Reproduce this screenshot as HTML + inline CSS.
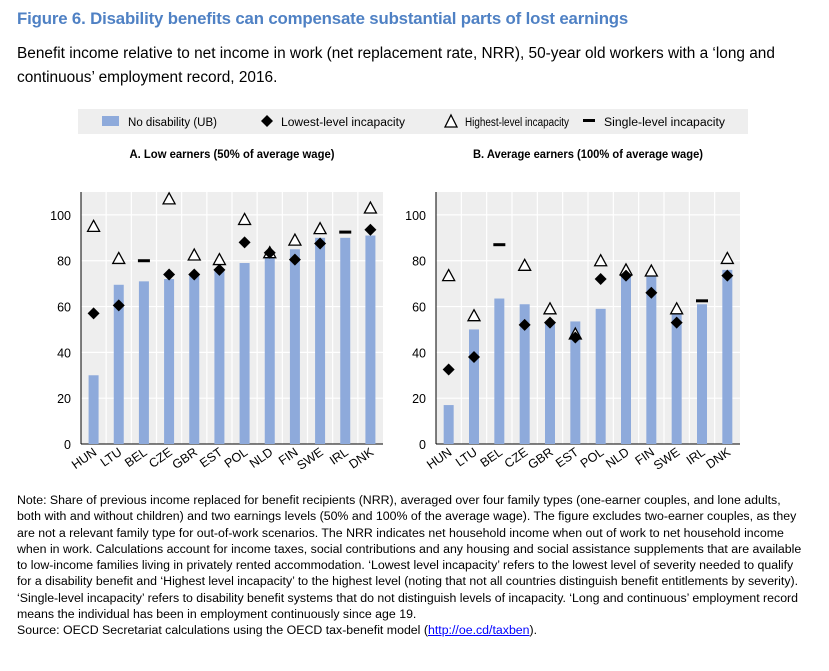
<!DOCTYPE html>
<html><head><meta charset="utf-8"><style>
body{margin:0;background:#fff;font-family:"Liberation Sans",sans-serif;width:829px;height:671px;overflow:hidden;position:relative}
.t{position:absolute;white-space:nowrap}
</style></head><body>
<div class="t" style="left:17px;top:9px;font-size:16.8px;font-weight:bold;color:#4f81c4;letter-spacing:-0.15px">Figure 6. Disability benefits can compensate substantial parts of lost earnings</div>
<div class="t" style="left:17px;top:42px;font-size:15.4px;line-height:24px;color:#000">Benefit income relative to net income in work (net replacement rate, NRR), 50-year old workers with a ‘long and<br>continuous’ employment record, 2016.</div>
<svg id="chart" width="829" height="671" style="position:absolute;left:0;top:0" xmlns="http://www.w3.org/2000/svg" font-family="Liberation Sans, sans-serif"></svg>
<div class="t" style="left:17px;top:492px;font-size:12.35px;line-height:16.3px;color:#000">Note: Share of previous income replaced for benefit recipients (NRR), averaged over four family types (one-earner couples, and lone adults,<br>both with and without children) and two earnings levels (50% and 100% of the average wage). The figure excludes two-earner couples, as they<br>are not a relevant family type for out-of-work scenarios. The NRR indicates net household income when out of work to net household income<br>when in work. Calculations account for income taxes, social contributions and any housing and social assistance supplements that are available<br>to low-income families living in privately rented accommodation. ‘Lowest level incapacity’ refers to the lowest level of severity needed to qualify<br>for a disability benefit and ‘Highest level incapacity’ to the highest level (noting that not all countries distinguish benefit entitlements by severity).<br>‘Single-level incapacity’ refers to disability benefit systems that do not distinguish levels of incapacity. ‘Long and continuous’ employment record<br>means the individual has been in employment continuously since age 19.<br>Source: OECD Secretariat calculations using the OECD tax-benefit model (<span style="color:#00f;text-decoration:underline">http://oe.cd/taxben</span>).</div>
<script>
const categories=["HUN","LTU","BEL","CZE","GBR","EST","POL","NLD","FIN","SWE","IRL","DNK"];
const barsA=[30,69.5,71,72,74,76,79,82,85,90,90,91];
const lowA=[57,60.5,null,74,74,76,88,83.5,80.5,87.5,null,93.5];
const highA=[95,81,null,107,82.5,80.5,98,83.5,89,94,null,103];
const singleA=[null,null,80,null,null,null,null,null,null,null,92.5,null];
const barsB=[17,50,63.5,61,53,53.5,59,74,74,58,61,76];
const lowB=[32.5,38,null,52,53,46.5,72,73.5,66,53,null,73.5];
const highB=[73.5,56,null,78,59,48,80,76,75.5,59,null,81];
const singleB=[null,null,87,null,null,null,null,null,null,null,62.5,null];
const ticks=[0,20,40,60,80,100];
const svg=document.getElementById('chart');
const NS='http://www.w3.org/2000/svg';
function mk(tag,attrs,parent){const e=document.createElementNS(NS,tag);for(const k in attrs)e.setAttribute(k,attrs[k]);(parent||svg).appendChild(e);return e;}
const lg=mk('g',{});


mk('rect',{x:78,y:109,width:670,height:25,fill:'#eeeeee'},lg);
mk('rect',{x:102,y:116,width:17,height:10,fill:'#8eaadb'},lg);
let t=mk('text',{x:128,y:126,'font-size':11.5,textLength:89,lengthAdjust:'spacingAndGlyphs'},lg);t.textContent='No disability (UB)';
mk('path',{d:'M267 115 L273 121 L267 127 L261 121Z',fill:'#000'},lg);
t=mk('text',{x:281,y:126,'font-size':11.5,textLength:124,lengthAdjust:'spacingAndGlyphs'},lg);t.textContent='Lowest-level incapacity';
mk('path',{d:'M451 115 L457 127 L445 127Z',fill:'#fff',stroke:'#000','stroke-width':1.3},lg);
t=mk('text',{x:465,y:126,'font-size':11.5,textLength:104,lengthAdjust:'spacingAndGlyphs'},lg);t.textContent='Highest-level incapacity';
mk('rect',{x:583,y:119,width:12,height:3,fill:'#000'},lg);
t=mk('text',{x:604,y:126,'font-size':11.5,textLength:121,lengthAdjust:'spacingAndGlyphs'},lg);t.textContent='Single-level incapacity';
function panel(name,title,tl,x0,x1,bars,low,high,single){
  const g=mk('g',{});
  
  
  const y0=444,yTop=192,vmax=110;
  const y=v=>y0-(v/vmax)*(y0-yTop);
  const bw=(x1-x0)/categories.length;
  const cx=i=>x0+bw*(i+0.5);
  const tt=mk('text',{x:(x0+x1)/2,y:158,'font-size':12,'font-weight':'bold','text-anchor':'middle',textLength:tl,lengthAdjust:'spacingAndGlyphs'},g);tt.textContent=title;
  
  
  mk('rect',{x:x0,y:yTop,width:x1-x0,height:y0-yTop,fill:'#eeeeee'},g);
  ticks.forEach(v=>{
    mk('line',{x1:x0,x2:x1,y1:y(v),y2:y(v),stroke:'#fff','stroke-width':1.2},g);
    const l=mk('text',{x:x0-10,y:y(v)+5,'font-size':12.5,'text-anchor':'end'},g);l.textContent=v;
    
    
  });
  for(let i=1;i<categories.length;i++)mk('line',{x1:x0+bw*i,x2:x0+bw*i,y1:yTop,y2:y0,stroke:'#fff','stroke-width':1.2},g);
  mk('line',{x1:x0,x2:x0,y1:yTop,y2:y0,stroke:'#000','stroke-width':1},g);
  mk('line',{x1:x0,x2:x1,y1:y0,y2:y0,stroke:'#000','stroke-width':1},g);
  categories.forEach((c,i)=>{
    const b=mk('rect',{x:cx(i)-5,y:y(bars[i]),width:10,height:y0-y(bars[i]),fill:'#8eaadb'},g);
    
    
    if(high[i]!=null){const p=mk('path',{d:`M${cx(i)} ${y(high[i])-6} L${cx(i)+6} ${y(high[i])+5} L${cx(i)-6} ${y(high[i])+5}Z`,fill:'#fff',stroke:'#000','stroke-width':1.3},g);
      
      }
    if(low[i]!=null){const p=mk('path',{d:`M${cx(i)} ${y(low[i])-6} L${cx(i)+6} ${y(low[i])} L${cx(i)} ${y(low[i])+6} L${cx(i)-6} ${y(low[i])}Z`,fill:'#000'},g);
      
      }
    if(single[i]!=null){const p=mk('rect',{x:cx(i)-6,y:y(single[i])-1.5,width:12,height:3,fill:'#000'},g);
      
      }
    const l=mk('text',{x:cx(i)+4,y:y0+10,'font-size':12.5,'text-anchor':'end',transform:`rotate(-35 ${cx(i)+4} ${y0+10})`},g);
    l.textContent=c;
    
    
  });
}
panel('panel-a-low-earners','A. Low  earners (50% of average wage)',205,81,383,barsA,lowA,highA,singleA);
panel('panel-b-average-earners','B. Average earners (100% of average wage)',230,436,740,barsB,lowB,highB,singleB);
</script>
</body></html>
